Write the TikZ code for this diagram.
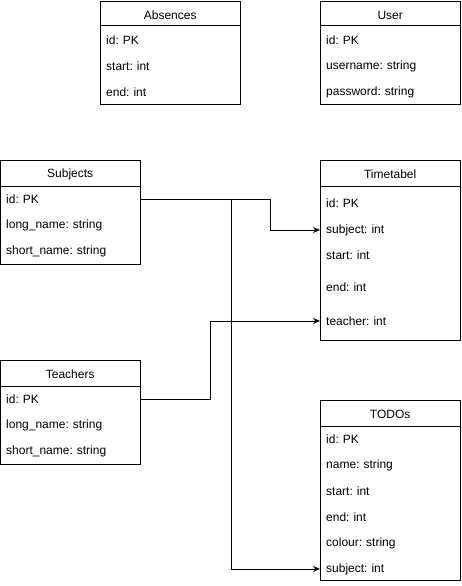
\documentclass[tikz,border=0pt]{standalone}
\usepackage{fontspec}
\setmainfont{Liberation Sans}
\usetikzlibrary{arrows.meta}
\frenchspacing

\begin{document}
\begin{tikzpicture}[x=1pt, y=-1pt,
  font=\fontsize{12}{14}\selectfont,
  tablebox/.style={draw, line width=1pt, anchor=north west, inner sep=0pt, minimum width=140pt},
  tabletitle/.style={anchor=north west, inner sep=0pt, minimum width=140pt, minimum height=26pt, yshift=-1pt},
  row/.style={anchor=west, inner xsep=6pt, inner ysep=0pt, text width=128pt, align=left},
  conn/.style={line width=1pt, -{Stealth[length=7pt, width=6pt]}},
  link/.style={line width=1pt}]
\useasboundingbox (0,0) rectangle (461,586);

% Absences
\node[tablebox, minimum height=103pt] (abs) at (100,1) {};
\node[tabletitle] (abs-title) at (abs.north west) {Absences};
\draw[link] (100,26) -- (240,26);
\node[row] (abs-id) at (100,40) {id: PK};
\node[row] (abs-start) at (100,66) {start: int};
\node[row] (abs-end) at (100,92) {end: int};

% User
\node[tablebox, minimum height=103pt] (usr) at (320,1) {};
\node[tabletitle] (usr-title) at (usr.north west) {User};
\draw[link] (320,26) -- (460,26);
\node[row] (usr-id) at (320,40) {id: PK};
\node[row] (usr-name) at (320,66) {username: string};
\node[row] (usr-pw) at (320,92) {password: string};

% Subjects
\node[tablebox, minimum height=104pt] (subj) at (0,160) {};
\node[tabletitle] (subj-title) at (subj.north west) {Subjects};
\draw[link] (0,186) -- (140,186);
\node[row] (subj-id) at (0,199) {id: PK};
\node[row] (subj-long) at (0,225) {long\_name: string};
\node[row] (subj-short) at (0,251) {short\_name: string};

% Timetabel
\node[tablebox, minimum height=180pt] (tt) at (320,160) {};
\node[tabletitle] (tt-title) at (tt.north west) {Timetabel};
\draw[link] (320,186) -- (460,186);
\node[row] (tt-id) at (320,203) {id: PK};
\node[row] (tt-subject) at (320,230) {subject: int};
\node[row] (tt-start) at (320,255) {start: int};
\node[row] (tt-end) at (320,287) {end: int};
\node[row] (tt-teacher) at (320,321) {teacher: int};

% Teachers
\node[tablebox, minimum height=104pt] (teach) at (0,360) {};
\node[tabletitle] (teach-title) at (teach.north west) {Teachers};
\draw[link] (0,386) -- (140,386);
\node[row] (teach-id) at (0,399) {id: PK};
\node[row] (teach-long) at (0,425) {long\_name: string};
\node[row] (teach-short) at (0,451) {short\_name: string};

% TODOs
\node[tablebox, minimum height=180pt] (todo) at (320,400) {};
\node[tabletitle] (todo-title) at (todo.north west) {TODOs};
\draw[link] (320,426) -- (460,426);
\node[row] (todo-id) at (320,439) {id: PK};
\node[row] (todo-name) at (320,465) {name: string};
\node[row] (todo-start) at (320,491) {start: int};
\node[row] (todo-end) at (320,517) {end: int};
\node[row] (todo-colour) at (320,543) {colour: string};
\node[row] (todo-subject) at (320,569) {subject: int};

% Foreign keys
\draw[conn] (subj-id.east) -- ++(130,0) |- (tt-subject.west);
\draw[conn] (subj-id.east) -- ++(91,0) |- (todo-subject.west);
\draw[conn] (teach-id.east) -- ++(70,0) |- (tt-teacher.west);
\end{tikzpicture}
\end{document}
